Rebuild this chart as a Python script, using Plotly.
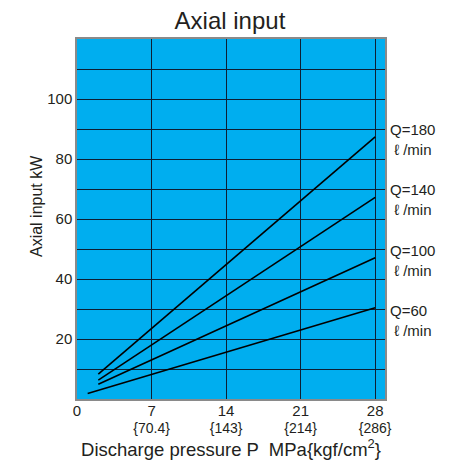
import plotly.graph_objects as go

# discharge pressure (MPa) and axial input (kW)
p_180 = [2, 28]
kw_180 = [8.3, 87.4]
p_140 = [2, 28]
kw_140 = [6.3, 67.2]
p_100 = [2, 28]
kw_100 = [4.9, 47.1]
p_60 = [1, 28]
kw_60 = [1.8, 30.4]

series = [
    ("Q=180", p_180, kw_180, 86.6),
    ("Q=140", p_140, kw_140, 66.4),
    ("Q=100", p_100, kw_100, 46.3),
    ("Q=60", p_60, kw_60, 26.2),
]

x_ticks = [0, 7, 14, 21, 28]
x_sub = ["", "{70.4}", "{143}", "{214}", "{286}"]
y_ticks = [10, 20, 30, 40, 50, 60, 70, 80, 90, 100, 110]
y_labels = ["", "20", "", "40", "", "60", "", "80", "", "100", ""]

txt = "#231f20"
fig = go.Figure()

for name, xs, ys, label_y in series:
    fig.add_trace(go.Scatter(x=xs, y=ys, mode="lines",
                             line=dict(color="black", width=1.6),
                             showlegend=False, hoverinfo="skip"))
    fig.add_annotation(x=1.01, xref="paper", y=label_y, yref="y",
                       text=name + "<br>&nbsp;ℓ /min", showarrow=False,
                       xanchor="left", align="left",
                       font=dict(size=15, color=txt))

ticktext = []
for v, s in zip(x_ticks, x_sub):
    main = f"<span style='font-size:15px'>{v}</span>"
    if s:
        ticktext.append(f"{main}<br><span style='font-size:14px'>{s}</span>")
    else:
        ticktext.append(main)

# y-axis title placed as rotated annotation so it can sit slightly above centre
fig.add_annotation(x=0, xref="paper", xshift=-41, y=0.536, yref="paper",
                   text="Axial input kW", textangle=-90, showarrow=False,
                   xanchor="center", yanchor="middle",
                   font=dict(size=16, color=txt))

# page body adds 8px offset, so margins are shifted accordingly
fig.update_layout(
    width=453, height=461,
    margin=dict(l=69, r=76, t=31, b=70),
    paper_bgcolor="white",
    plot_bgcolor="#00aeef",
    font=dict(family="Liberation Sans, Arial, sans-serif", color=txt, size=15),
    title=dict(text="Axial input", x=0.49, xanchor="center", y=0.99, yanchor="top",
               font=dict(size=24, color=txt)),
    xaxis=dict(range=[0, 28.92], tickvals=x_ticks, ticktext=ticktext,
               tickfont=dict(size=13), ticklabelstandoff=0,
               showgrid=True, gridcolor="#0d1f33", gridwidth=1,
               showline=True, linecolor="#8a8a8a", linewidth=1.5, mirror=True,
               zeroline=False, ticks="", fixedrange=True, automargin=False,
               title=dict(text="Discharge pressure P  MPa{kgf/cm<sup>2</sup>}",
                          font=dict(size=18.5), standoff=2)),
    yaxis=dict(range=[0, 120], tickvals=y_ticks, ticktext=y_labels,
               showgrid=True, gridcolor="#0d1f33", gridwidth=1,
               showline=True, linecolor="#8a8a8a", linewidth=1.5, mirror=True,
               zeroline=False, ticks="", fixedrange=True, automargin=False),
)

fig.write_html("out.html")
